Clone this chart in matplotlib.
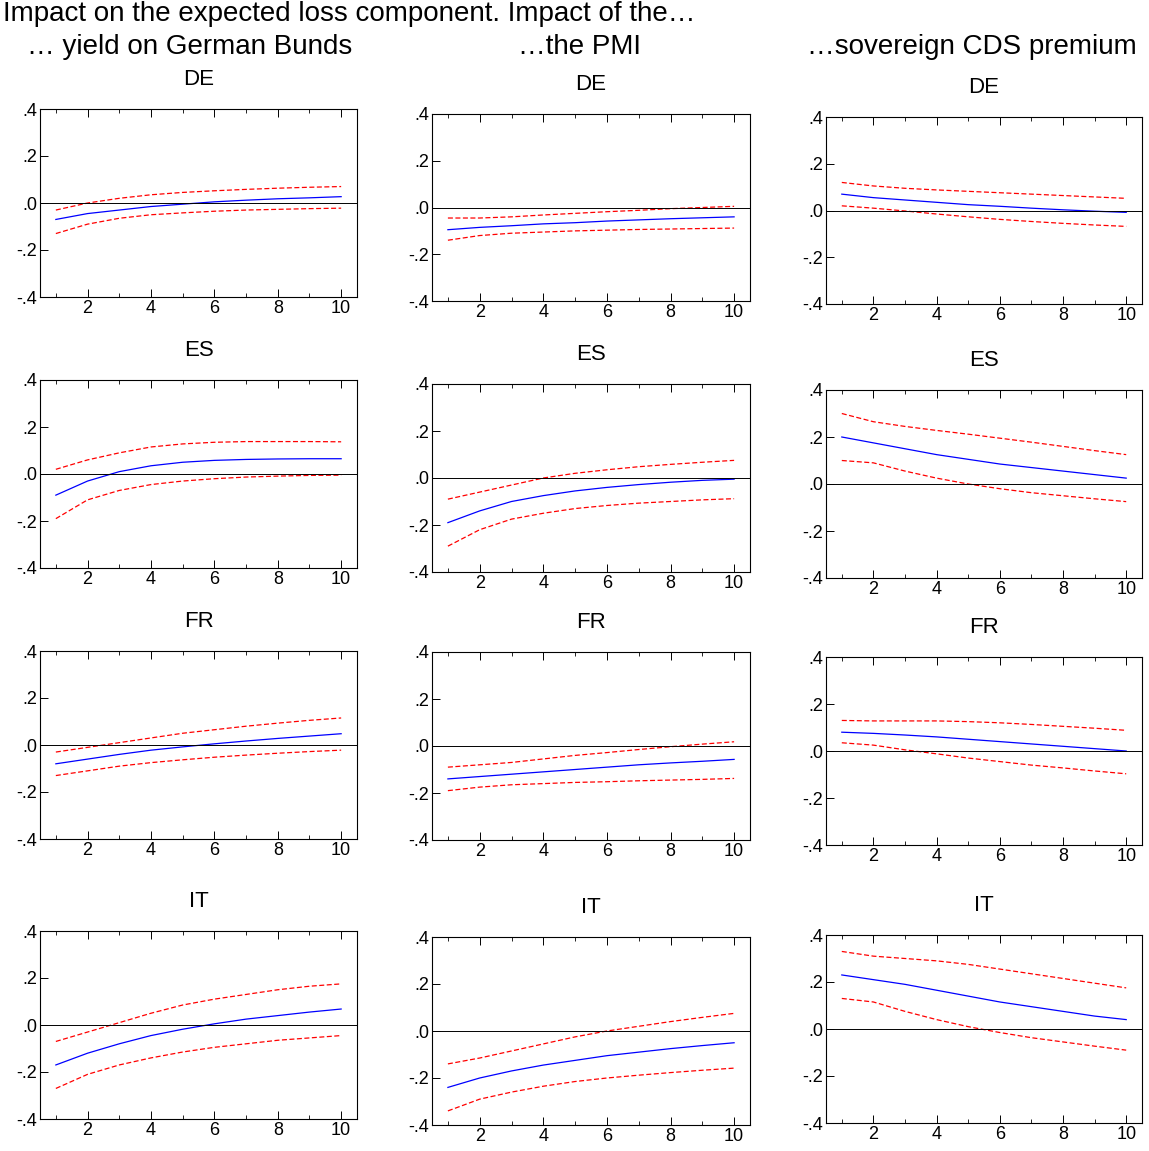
import matplotlib
matplotlib.use("Agg")
import matplotlib.pyplot as plt
from matplotlib.ticker import FixedLocator

plt.rcParams['font.family'] = ['Liberation Sans', 'DejaVu Sans']

steps = list(range(1, 11))
countries = ["DE", "ES", "FR", "IT"]
col_titles = ["\u2026 yield on German Bunds", "\u2026the PMI", "\u2026sovereign CDS premium"]

# col 1: Bund yield
bund_mid = {
    "DE": [-0.07, -0.045, -0.03, -0.015, -0.005, 0.005, 0.012, 0.018, 0.022, 0.027],
    "ES": [-0.09, -0.03, 0.01, 0.035, 0.05, 0.058, 0.062, 0.064, 0.065, 0.065],
    "FR": [-0.08, -0.06, -0.04, -0.022, -0.008, 0.005, 0.017, 0.028, 0.038, 0.048],
    "IT": [-0.17, -0.12, -0.08, -0.045, -0.018, 0.005, 0.025, 0.04, 0.055, 0.068],
}
bund_up = {
    "DE": [-0.03, 0.0, 0.02, 0.035, 0.045, 0.052, 0.058, 0.063, 0.067, 0.07],
    "ES": [0.02, 0.06, 0.09, 0.115, 0.128, 0.135, 0.138, 0.138, 0.138, 0.137],
    "FR": [-0.03, -0.01, 0.01, 0.03, 0.05, 0.065, 0.08, 0.093, 0.105, 0.115],
    "IT": [-0.07, -0.03, 0.01, 0.05, 0.085, 0.11, 0.13, 0.15, 0.165, 0.175],
}
bund_lo = {
    "DE": [-0.13, -0.09, -0.065, -0.05, -0.042, -0.035, -0.03, -0.027, -0.024, -0.022],
    "ES": [-0.19, -0.11, -0.07, -0.045, -0.03, -0.02, -0.013, -0.009, -0.006, -0.005],
    "FR": [-0.13, -0.11, -0.09, -0.075, -0.063, -0.052, -0.043, -0.035, -0.028, -0.022],
    "IT": [-0.27, -0.21, -0.17, -0.14, -0.115, -0.095, -0.08, -0.065, -0.055, -0.045],
}
# col 2: PMI
pmi_mid = {
    "DE": [-0.095, -0.085, -0.078, -0.07, -0.065, -0.058, -0.053, -0.048, -0.044, -0.04],
    "ES": [-0.19, -0.14, -0.1, -0.075, -0.055, -0.04, -0.028, -0.018, -0.01, -0.005],
    "FR": [-0.14, -0.13, -0.12, -0.11, -0.1, -0.09, -0.08, -0.072, -0.065, -0.057],
    "IT": [-0.24, -0.2, -0.17, -0.145, -0.125, -0.105, -0.09, -0.075, -0.062, -0.05],
}
pmi_up = {
    "DE": [-0.045, -0.045, -0.04, -0.032, -0.025, -0.018, -0.012, -0.005, 0.0, 0.005],
    "ES": [-0.09, -0.06, -0.03, 0.0, 0.02, 0.035, 0.048, 0.058, 0.067, 0.075],
    "FR": [-0.09, -0.08, -0.07, -0.055, -0.04, -0.028, -0.015, -0.003, 0.008, 0.018],
    "IT": [-0.14, -0.115, -0.085, -0.055, -0.025, 0.0, 0.02, 0.04, 0.058, 0.075],
}
pmi_lo = {
    "DE": [-0.14, -0.12, -0.11, -0.105, -0.1, -0.097, -0.094, -0.092, -0.09, -0.088],
    "ES": [-0.29, -0.22, -0.175, -0.15, -0.13, -0.117, -0.107, -0.1, -0.093, -0.088],
    "FR": [-0.19, -0.175, -0.165, -0.16, -0.155, -0.152, -0.148, -0.145, -0.142, -0.138],
    "IT": [-0.34, -0.29, -0.26, -0.235, -0.215, -0.2, -0.188, -0.177, -0.167, -0.158],
}
# col 3: CDS
cds_mid = {
    "DE": [0.07, 0.055, 0.045, 0.035, 0.025, 0.018, 0.01, 0.003, -0.003, -0.008],
    "ES": [0.2, 0.175, 0.15, 0.125, 0.105, 0.085, 0.07, 0.055, 0.04, 0.025],
    "FR": [0.08, 0.075, 0.068, 0.06, 0.05, 0.04, 0.03, 0.02, 0.01, 0.0],
    "IT": [0.23, 0.21, 0.19, 0.165, 0.14, 0.115, 0.095, 0.075, 0.055, 0.04],
}
cds_up = {
    "DE": [0.12, 0.105, 0.095, 0.088, 0.082, 0.076, 0.07, 0.064, 0.058, 0.052],
    "ES": [0.3, 0.265, 0.245, 0.228, 0.212, 0.195, 0.178, 0.16, 0.142, 0.125],
    "FR": [0.13, 0.128, 0.128, 0.128, 0.125, 0.12, 0.113, 0.105, 0.097, 0.088],
    "IT": [0.33, 0.31, 0.3, 0.29, 0.275, 0.255, 0.235, 0.215, 0.195, 0.175],
}
cds_lo = {
    "DE": [0.02, 0.01, -0.002, -0.015, -0.027, -0.038, -0.047, -0.055, -0.062, -0.068],
    "ES": [0.1, 0.09, 0.055, 0.025, 0.0, -0.02, -0.037, -0.05, -0.063, -0.075],
    "FR": [0.035, 0.025, 0.005, -0.012, -0.03, -0.045, -0.06, -0.072, -0.085, -0.097],
    "IT": [0.13, 0.115, 0.075, 0.04, 0.01, -0.015, -0.037, -0.055, -0.073, -0.09],
}
columns = [(bund_mid, bund_up, bund_lo), (pmi_mid, pmi_up, pmi_lo), (cds_mid, cds_up, cds_lo)]

# axes boxes in pixels
W, H = 1149, 1151
col_x = [(40, 357), (432, 750), (826, 1142)]
row_y = [
    [(109, 297), (380, 568), (651, 839), (931, 1119)],
    [(114, 301), (384, 572), (652, 840), (937, 1125)],
    [(117, 304), (390, 578), (657, 845), (935, 1123)],
]

fig = plt.figure(figsize=(W / 100, H / 100), dpi=100)
fig.text(3 / W, 1 - 14 / H, "Impact on the expected loss component. Impact of the\u2026",
         fontsize=20, va="center", ha="left")
title_x = [190, 580, 972]
for c, t in enumerate(col_titles):
    fig.text(title_x[c] / W, 1 - 47 / H, t, fontsize=20, va="center", ha="center")

for c, (mid, up, lo) in enumerate(columns):
    x0, x1 = col_x[c]
    for r, cty in enumerate(countries):
        y0, y1 = row_y[c][r]
        ax = fig.add_axes([x0 / W, 1 - y1 / H, (x1 - x0) / W, (y1 - y0) / H])
        ax.plot(steps, mid[cty], color="blue", lw=0.9)
        ax.plot(steps, up[cty], color="red", lw=0.9, ls=(0, (4, 2)))
        ax.plot(steps, lo[cty], color="red", lw=0.9, ls=(0, (4, 2)))
        ax.axhline(0, color="black", lw=0.7)
        ax.set_xlim(0.5, 10.5)
        ax.set_ylim(-0.4, 0.4)
        ax.xaxis.set_major_locator(FixedLocator([2, 4, 6, 8, 10]))
        ax.xaxis.set_minor_locator(FixedLocator([1, 3, 5, 7, 9]))
        ax.set_yticks([-0.4, -0.2, 0.0, 0.2, 0.4])
        ax.set_yticklabels(["-.4", "-.2", ".0", ".2", ".4"])
        ax.tick_params(axis="both", labelsize=13, direction="in", length=6, width=0.7,
                       top=True, which="major", pad=2)
        ax.tick_params(axis="x", which="minor", direction="in", length=3, top=True)
        for s in ax.spines.values():
            s.set_linewidth(0.8)
        ax.set_title(cty, fontsize=16, pad=17)

fig.savefig("out.png", dpi=100)
